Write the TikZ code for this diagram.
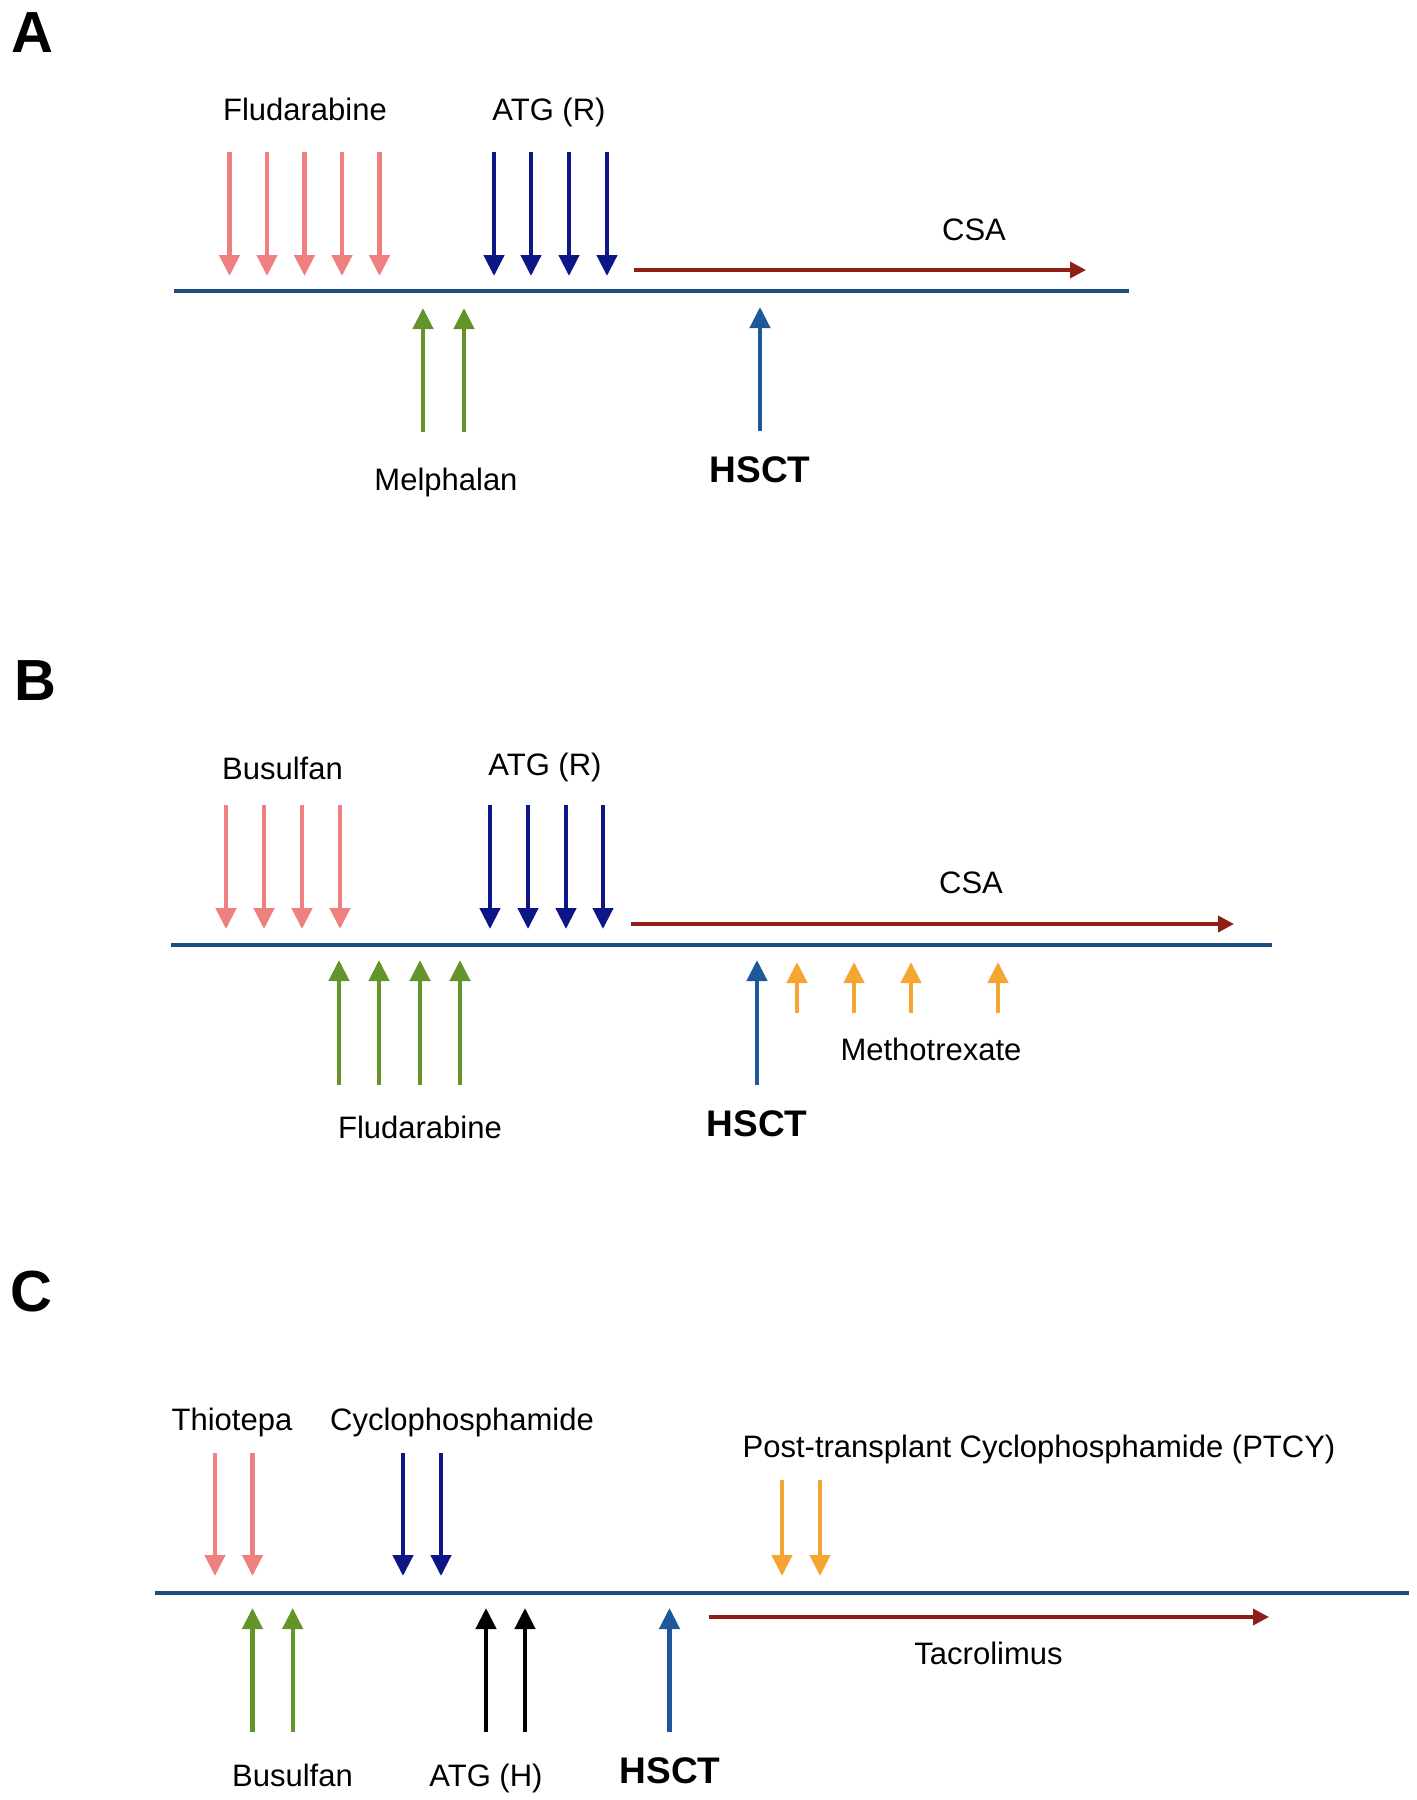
\documentclass[tikz,border=0pt]{standalone}
\usepackage{fontspec}
\setmainfont{Liberation Sans}
\usetikzlibrary{arrows.meta}
\definecolor{salmonc}{RGB}{240,128,128}
\definecolor{navyb}{RGB}{12,22,135}
\definecolor{leafg}{RGB}{98,148,42}
\definecolor{tlblue}{RGB}{30,78,128}
\definecolor{hsctblue}{RGB}{30,88,155}
\definecolor{dred}{RGB}{145,30,20}
\definecolor{orangeb}{RGB}{245,165,50}
\begin{document}
\begin{tikzpicture}[x=0.5pt,y=-0.5pt,
  lbl/.style={font=\fontsize{15.5}{18}\selectfont, anchor=base, inner sep=0pt},
  hsct/.style={font=\fontsize{18.5}{22}\selectfont\bfseries, anchor=base, inner sep=0pt},
  panel/.style={font=\fontsize{29}{34}\selectfont\bfseries, anchor=base west, inner sep=0pt},
  tl/.style={draw=tlblue, line width=2.4pt},
  dose/.style={line width=2.2pt, -{Triangle[length=10.5pt,width=10pt]}},
  drug/.style={line width=1.8pt, draw=dred, -{Triangle[length=8pt,width=8pt]}},
]
\useasboundingbox[fill=white] (0,0) rectangle (1417,1800);

% ---------------- Panel A ----------------
\node[panel] (pA) at (11,52) {A};
\coordinate (tlAs) at (174,291);
\coordinate (tlAe) at (1129,291);
\draw[tl] (tlAs) -- (tlAe);
\foreach \x [count=\i] in {229.5,267,304.5,342,379.5} {
  \coordinate (Af\i s) at (\x,152); \coordinate (Af\i e) at (\x,276);
  \draw[dose, draw=salmonc] (Af\i s) -- (Af\i e);
}
\foreach \x [count=\i] in {494,531,569,607} {
  \coordinate (Aa\i s) at (\x,152); \coordinate (Aa\i e) at (\x,276);
  \draw[dose, draw=navyb] (Aa\i s) -- (Aa\i e);
}
\foreach \x [count=\i] in {423,464} {
  \coordinate (Am\i s) at (\x,432); \coordinate (Am\i e) at (\x,308);
  \draw[dose, draw=leafg] (Am\i s) -- (Am\i e);
}
\coordinate (Ahs) at (760,431); \coordinate (Ahe) at (760,307);
\draw[dose, draw=hsctblue] (Ahs) -- (Ahe);
\coordinate (Acs) at (634,270); \coordinate (Ace) at (1086,270);
\draw[drug] (Acs) -- (Ace);
\node[lbl] (Aflu) at (305,120) {Fludarabine};
\node[lbl] (Aatg) at (549,120) {ATG (R)};
\node[lbl] (Acsa) at (974,240) {CSA};
\node[lbl] (Amel) at (446,490) {Melphalan};
\node[hsct] (Ahsct) at (760,482) {HSCT};

% ---------------- Panel B ----------------
\node[panel] (pB) at (14,700) {B};
\coordinate (tlBs) at (171,945);
\coordinate (tlBe) at (1272,945);
\draw[tl] (tlBs) -- (tlBe);
\foreach \x [count=\i] in {226,264,302,340} {
  \coordinate (Bb\i s) at (\x,805); \coordinate (Bb\i e) at (\x,929);
  \draw[dose, draw=salmonc] (Bb\i s) -- (Bb\i e);
}
\foreach \x [count=\i] in {490,528,566,603} {
  \coordinate (Ba\i s) at (\x,805); \coordinate (Ba\i e) at (\x,929);
  \draw[dose, draw=navyb] (Ba\i s) -- (Ba\i e);
}
\foreach \x [count=\i] in {339,379,420,460} {
  \coordinate (Bf\i s) at (\x,1085); \coordinate (Bf\i e) at (\x,960);
  \draw[dose, draw=leafg] (Bf\i s) -- (Bf\i e);
}
\foreach \x [count=\i] in {797,854,911,998} {
  \coordinate (Bm\i s) at (\x,1013); \coordinate (Bm\i e) at (\x,962);
  \draw[dose, draw=orangeb] (Bm\i s) -- (Bm\i e);
}
\coordinate (Bhs) at (757,1085); \coordinate (Bhe) at (757,960);
\draw[dose, draw=hsctblue] (Bhs) -- (Bhe);
\coordinate (Bcs) at (631,924); \coordinate (Bce) at (1234,924);
\draw[drug] (Bcs) -- (Bce);
\node[lbl] (Bbus) at (282.5,779) {Busulfan};
\node[lbl] (Batg) at (545,775) {ATG (R)};
\node[lbl] (Bcsa) at (971,893) {CSA};
\node[lbl] (Bflu) at (420,1138) {Fludarabine};
\node[lbl] (Bmtx) at (931,1060) {Methotrexate};
\node[hsct] (Bhsct) at (757,1136) {HSCT};

% ---------------- Panel C ----------------
\node[panel] (pC) at (10,1311) {C};
\coordinate (tlCs) at (154.5,1593);
\coordinate (tlCe) at (1409,1593);
\draw[tl] (tlCs) -- (tlCe);
\foreach \x [count=\i] in {215,252.5} {
  \coordinate (Ct\i s) at (\x,1453); \coordinate (Ct\i e) at (\x,1576);
  \draw[dose, draw=salmonc] (Ct\i s) -- (Ct\i e);
}
\foreach \x [count=\i] in {403,441} {
  \coordinate (Cc\i s) at (\x,1453); \coordinate (Cc\i e) at (\x,1576);
  \draw[dose, draw=navyb] (Cc\i s) -- (Cc\i e);
}
\foreach \x [count=\i] in {782,820} {
  \coordinate (Cp\i s) at (\x,1480); \coordinate (Cp\i e) at (\x,1576);
  \draw[dose, draw=orangeb] (Cp\i s) -- (Cp\i e);
}
\foreach \x [count=\i] in {252.5,292.7} {
  \coordinate (Cb\i s) at (\x,1732); \coordinate (Cb\i e) at (\x,1608);
  \draw[dose, draw=leafg] (Cb\i s) -- (Cb\i e);
}
\foreach \x [count=\i] in {486,525} {
  \coordinate (Ca\i s) at (\x,1732); \coordinate (Ca\i e) at (\x,1608);
  \draw[dose, draw=black] (Ca\i s) -- (Ca\i e);
}
\coordinate (Chs) at (669.5,1732); \coordinate (Che) at (669.5,1608);
\draw[dose, draw=hsctblue] (Chs) -- (Che);
\coordinate (Cts) at (709,1617); \coordinate (Cte) at (1269,1617);
\draw[drug] (Cts) -- (Cte);
\node[lbl] (Cthio) at (232,1430) {Thiotepa};
\node[lbl] (Ccyc) at (462,1430) {Cyclophosphamide};
\node[lbl] (Cptcy) at (1039,1457) {Post-transplant Cyclophosphamide (PTCY)};
\node[lbl] (Ctac) at (988.5,1664) {Tacrolimus};
\node[lbl] (Cbus) at (292.5,1786) {Busulfan};
\node[lbl] (Catg) at (486,1786) {ATG (H)};
\node[hsct] (Chsct) at (670,1783) {HSCT};
\end{tikzpicture}
\end{document}
